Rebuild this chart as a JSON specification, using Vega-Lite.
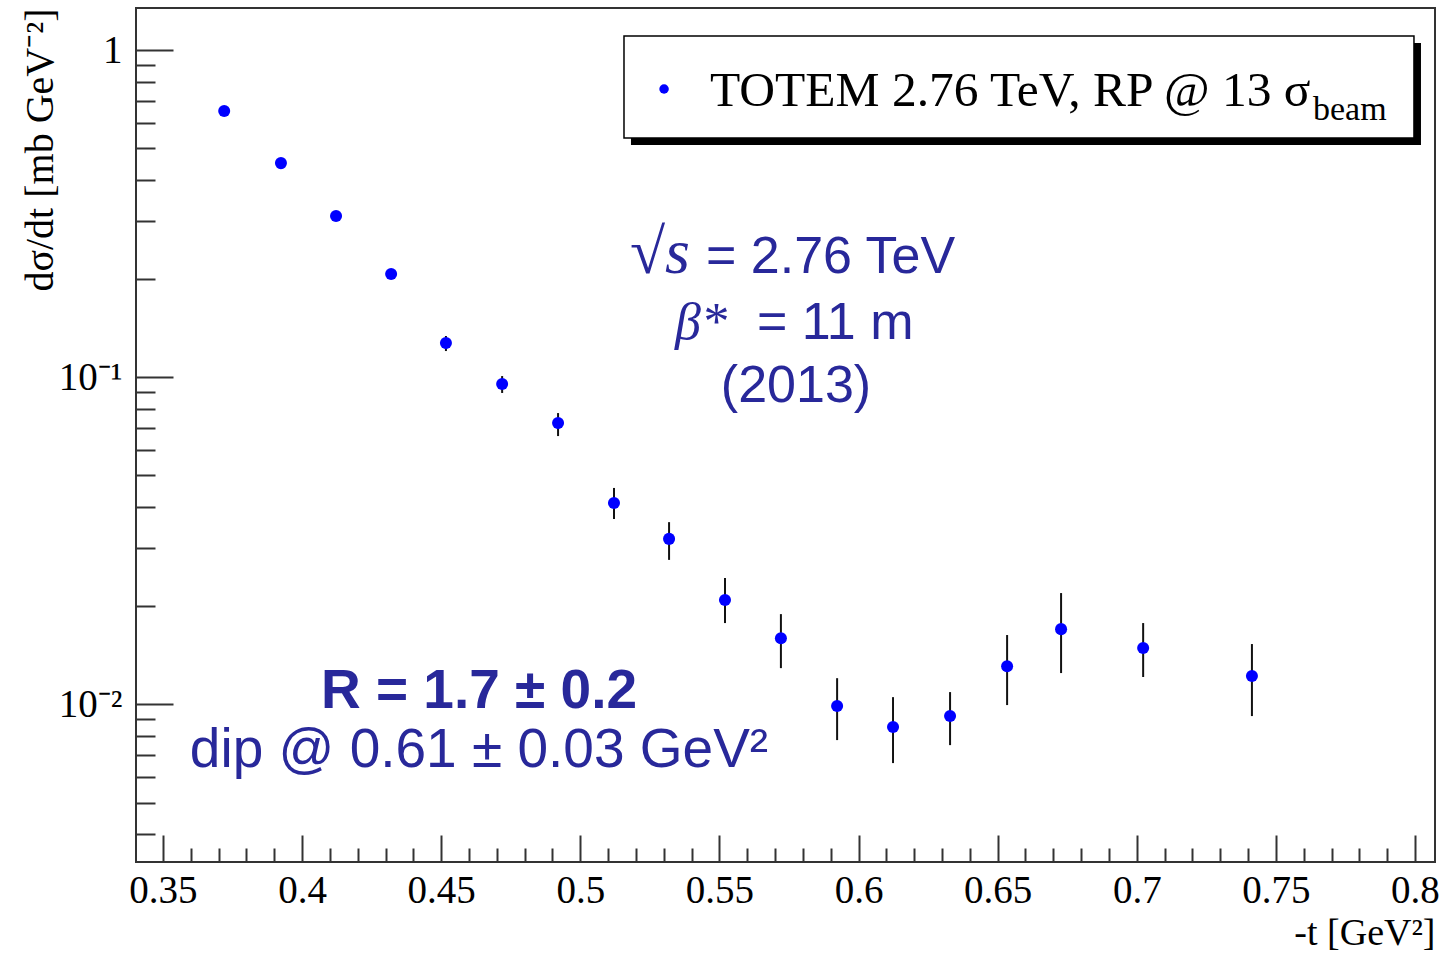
{
  "$schema": "https://vega.github.io/schema/vega-lite/v6.json",
  "width": 1299,
  "height": 854,
  "autosize": {"type": "none"},
  "padding": {"left": 136, "top": 8, "right": 7, "bottom": 91},
  "background": "white",
  "config": {"view": {"stroke": "#333333", "strokeWidth": 2}, "axis": {"grid": false}},
  "datasets": {
    "pts": [
      {"t": 0.372, "v": 0.651, "lo": 0.637, "hi": 0.665},
      {"t": 0.3924, "v": 0.451, "lo": 0.442, "hi": 0.461},
      {"t": 0.4122, "v": 0.311, "lo": 0.300, "hi": 0.322},
      {"t": 0.432, "v": 0.2065, "lo": 0.1994, "hi": 0.214},
      {"t": 0.4517, "v": 0.127, "lo": 0.1201, "hi": 0.1335},
      {"t": 0.4719, "v": 0.0952, "lo": 0.0894, "hi": 0.1007},
      {"t": 0.492, "v": 0.0723, "lo": 0.0660, "hi": 0.0776},
      {"t": 0.5121, "v": 0.0412, "lo": 0.0368, "hi": 0.0458},
      {"t": 0.5319, "v": 0.0320, "lo": 0.0276, "hi": 0.0360},
      {"t": 0.552, "v": 0.0208, "lo": 0.01769, "hi": 0.0243},
      {"t": 0.5721, "v": 0.0159, "lo": 0.01288, "hi": 0.01884},
      {"t": 0.5923, "v": 0.00986, "lo": 0.00776, "hi": 0.0120},
      {"t": 0.6124, "v": 0.00851, "lo": 0.00660, "hi": 0.01050},
      {"t": 0.6329, "v": 0.00919, "lo": 0.00749, "hi": 0.01088},
      {"t": 0.6534, "v": 0.01306, "lo": 0.00993, "hi": 0.01626},
      {"t": 0.6728, "v": 0.01695, "lo": 0.01244, "hi": 0.02185},
      {"t": 0.7023, "v": 0.01483, "lo": 0.01210, "hi": 0.01769},
      {"t": 0.7414, "v": 0.01218, "lo": 0.00919, "hi": 0.01526}
    ]
  },
  "resolve": {"axis": {"x": "independent", "y": "independent"}},
  "layer": [
    {
      "data": {"values": [{"t": 0.51821, "t2": 0.80216, "v": 0.5122, "v2": 1.0505}]},
      "mark": {"type": "rect", "fill": "black"},
      "encoding": {
        "x": {"field": "t", "type": "quantitative", "scale": {"type": "linear", "domain": [0.3403, 0.8072], "nice": false, "zero": false},
          "axis": {"orient": "bottom", "values": [0.36,0.37,0.38,0.39,0.41,0.42,0.43,0.44,0.46,0.47,0.48,0.49,0.51,0.52,0.53,0.54,0.56,0.57,0.58,0.59,0.61,0.62,0.63,0.64,0.66,0.67,0.68,0.69,0.71,0.72,0.73,0.74,0.76,0.77,0.78,0.79], "labels": false, "domain": false, "grid": false, "tickSize": -14, "tickWidth": 2, "tickColor": "#333333", "title": null}},
        "x2": {"field": "t2"},
        "y": {"field": "v", "type": "quantitative", "scale": {"type": "log", "domain": [0.003289, 1.3444], "nice": false},
          "axis": {"orient": "left", "values": [0.004,0.005,0.006,0.007,0.008,0.009,0.02,0.03,0.04,0.05,0.06,0.07,0.08,0.09,0.2,0.3,0.4,0.5,0.6,0.7,0.8,0.9], "labels": false, "domain": false, "grid": false, "tickSize": -19, "tickWidth": 2, "tickColor": "#333333", "title": null}},
        "y2": {"field": "v2"}
      }
    },
    {
      "data": {"values": [{"t": 0.5157, "t2": 0.79964, "v": 0.5380, "v2": 1.1036}]},
      "mark": {"type": "rect", "fill": "white", "stroke": "black", "strokeWidth": 1.5},
      "encoding": {
        "x": {"field": "t", "type": "quantitative", "scale": {"type": "linear", "domain": [0.3403, 0.8072], "nice": false, "zero": false}, "axis": null},
        "x2": {"field": "t2"},
        "y": {"field": "v", "type": "quantitative", "scale": {"type": "log", "domain": [0.003289, 1.3444], "nice": false}, "axis": null},
        "y2": {"field": "v2"}
      }
    },
    {
      "data": {"name": "pts"},
      "mark": {"type": "rule", "stroke": "#111111", "strokeWidth": 2},
      "encoding": {
        "x": {"field": "t", "type": "quantitative", "scale": {"type": "linear", "domain": [0.3403, 0.8072], "nice": false, "zero": false},
          "axis": {"orient": "bottom", "values": [0.35,0.4,0.45,0.5,0.55,0.6,0.65,0.7,0.75,0.8], "ticks": false, "domain": false, "grid": false, "labelFont": "Liberation Serif", "labelFontSize": 39, "labelColor": "#000000", "labelPadding": 9, "labelFlush": false, "labelOverlap": false, "labelBound": false, "labelExpr": "format(datum.value, '~g')", "title": "-t [GeV²]", "titleFont": "Liberation Serif", "titleFontSize": 38, "titleFontWeight": "normal", "titleColor": "#000000", "titleAlign": "right", "titleBaseline": "alphabetic", "titleX": 1299, "titleY": 82}},
        "y": {"field": "lo", "type": "quantitative", "scale": {"type": "log", "domain": [0.003289, 1.3444], "nice": false},
          "axis": {"orient": "left", "values": [0.01, 0.1, 1], "ticks": false, "domain": false, "grid": false, "labelFont": "Liberation Serif", "labelFontSize": 39, "labelColor": "#000000", "labelPadding": 14, "labelBaseline": "middle", "labelOverlap": false, "labelBound": false, "labelFlush": false, "labelExpr": "datum.value >= 0.5 ? '1' : (datum.value >= 0.05 ? '10⁻¹' : '10⁻²')", "title": "dσ/dt [mb GeV⁻²]", "titleFont": "Liberation Serif", "titleFontSize": 40, "titleFontWeight": "normal", "titleColor": "#000000", "titleAngle": -90, "titleAlign": "right", "titleBaseline": "middle", "titleX": -96, "titleY": 0}},
        "y2": {"field": "hi"}
      }
    },
    {
      "data": {"name": "pts"},
      "mark": {"type": "point", "shape": "circle", "filled": true, "color": "#0000ff", "opacity": 1, "size": 145},
      "encoding": {
        "x": {"field": "t", "type": "quantitative", "scale": {"type": "linear", "domain": [0.3403, 0.8072], "nice": false, "zero": false},
          "axis": {"orient": "bottom", "values": [0.35,0.4,0.45,0.5,0.55,0.6,0.65,0.7,0.75,0.8], "labels": false, "domain": false, "grid": false, "tickSize": -27, "tickWidth": 2, "tickColor": "#333333", "title": null}},
        "y": {"field": "v", "type": "quantitative", "scale": {"type": "log", "domain": [0.003289, 1.3444], "nice": false},
          "axis": {"orient": "left", "values": [0.01, 0.1, 1], "labels": false, "domain": false, "grid": false, "tickSize": -37, "tickWidth": 2, "tickColor": "#333333", "title": null}}
      }
    },
    {
      "data": {"values": [{"t": 0.5301, "v": 0.760}]},
      "mark": {"type": "point", "shape": "circle", "filled": true, "color": "#0000ff", "opacity": 1, "size": 90},
      "encoding": {
        "x": {"field": "t", "type": "quantitative", "scale": {"type": "linear", "domain": [0.3403, 0.8072], "nice": false, "zero": false}, "axis": null},
        "y": {"field": "v", "type": "quantitative", "scale": {"type": "log", "domain": [0.003289, 1.3444], "nice": false}, "axis": null}
      }
    },
    {
      "data": {"values": [{"t": 0.54661, "v": 0.6743, "label": "TOTEM 2.76 TeV, RP @ 13 σ"}]},
      "mark": {"type": "text", "font": "Liberation Serif", "fontSize": 49.5, "align": "left", "baseline": "alphabetic", "color": "#000000"},
      "encoding": {
        "x": {"field": "t", "type": "quantitative", "scale": {"type": "linear", "domain": [0.3403, 0.8072], "nice": false, "zero": false}, "axis": null},
        "y": {"field": "v", "type": "quantitative", "scale": {"type": "log", "domain": [0.003289, 1.3444], "nice": false}, "axis": null},
        "text": {"field": "label"}
      }
    },
    {
      "data": {"values": [{"t": 0.76334, "v": 0.6107, "label": "beam"}]},
      "mark": {"type": "text", "font": "Liberation Serif", "fontSize": 34, "align": "left", "baseline": "alphabetic", "color": "#000000"},
      "encoding": {
        "x": {"field": "t", "type": "quantitative", "scale": {"type": "linear", "domain": [0.3403, 0.8072], "nice": false, "zero": false}, "axis": null},
        "y": {"field": "v", "type": "quantitative", "scale": {"type": "log", "domain": [0.003289, 1.3444], "nice": false}, "axis": null},
        "text": {"field": "label"}
      }
    },
    {
      "data": {"values": [{"t": 0.53942, "v": 0.2080, "label": "√s"}]},
      "mark": {"type": "text", "font": "Liberation Serif", "fontStyle": "italic", "fontSize": 64, "align": "right", "baseline": "alphabetic", "color": "#28289a"},
      "encoding": {
        "x": {"field": "t", "type": "quantitative", "scale": {"type": "linear", "domain": [0.3403, 0.8072], "nice": false, "zero": false}, "axis": null},
        "y": {"field": "v", "type": "quantitative", "scale": {"type": "log", "domain": [0.003289, 1.3444], "nice": false}, "axis": null},
        "text": {"field": "label"}
      }
    },
    {
      "data": {"values": [{"t": 0.55272, "v": 0.1307, "label": "β*"}]},
      "mark": {"type": "text", "font": "Liberation Serif", "fontStyle": "italic", "fontSize": 52, "align": "right", "baseline": "alphabetic", "color": "#28289a"},
      "encoding": {
        "x": {"field": "t", "type": "quantitative", "scale": {"type": "linear", "domain": [0.3403, 0.8072], "nice": false, "zero": false}, "axis": null},
        "y": {"field": "v", "type": "quantitative", "scale": {"type": "log", "domain": [0.003289, 1.3444], "nice": false}, "axis": null},
        "text": {"field": "label"}
      }
    },
    {
      "data": {"values": [{"t": 0.54517, "v": 0.2080, "label": "= 2.76 TeV"}, {"t": 0.56350, "v": 0.1307, "label": "= 11 m"}]},
      "mark": {"type": "text", "font": "Liberation Sans", "fontSize": 52, "align": "left", "baseline": "alphabetic", "color": "#28289a"},
      "encoding": {
        "x": {"field": "t", "type": "quantitative", "scale": {"type": "linear", "domain": [0.3403, 0.8072], "nice": false, "zero": false}, "axis": null},
        "y": {"field": "v", "type": "quantitative", "scale": {"type": "log", "domain": [0.003289, 1.3444], "nice": false}, "axis": null},
        "text": {"field": "label"}
      }
    },
    {
      "data": {"values": [{"t": 0.57752, "v": 0.08387, "label": "(2013)"}]},
      "mark": {"type": "text", "font": "Liberation Sans", "fontSize": 52, "align": "center", "baseline": "alphabetic", "color": "#28289a"},
      "encoding": {
        "x": {"field": "t", "type": "quantitative", "scale": {"type": "linear", "domain": [0.3403, 0.8072], "nice": false, "zero": false}, "axis": null},
        "y": {"field": "v", "type": "quantitative", "scale": {"type": "log", "domain": [0.003289, 1.3444], "nice": false}, "axis": null},
        "text": {"field": "label"}
      }
    },
    {
      "data": {"values": [{"t": 0.46358, "v": 0.006417, "label": "dip @ 0.61 ± 0.03 GeV²"}]},
      "mark": {"type": "text", "font": "Liberation Sans", "fontSize": 55, "align": "center", "baseline": "alphabetic", "color": "#28289a"},
      "encoding": {
        "x": {"field": "t", "type": "quantitative", "scale": {"type": "linear", "domain": [0.3403, 0.8072], "nice": false, "zero": false}, "axis": null},
        "y": {"field": "v", "type": "quantitative", "scale": {"type": "log", "domain": [0.003289, 1.3444], "nice": false}, "axis": null},
        "text": {"field": "label"}
      }
    },
    {
      "data": {"values": [{"t": 0.46358, "v": 0.009722, "label": "R = 1.7 ± 0.2"}]},
      "mark": {"type": "text", "font": "Liberation Sans", "fontSize": 55, "fontWeight": "bold", "align": "center", "baseline": "alphabetic", "color": "#28289a"},
      "encoding": {
        "x": {"field": "t", "type": "quantitative", "scale": {"type": "linear", "domain": [0.3403, 0.8072], "nice": false, "zero": false}, "axis": null},
        "y": {"field": "v", "type": "quantitative", "scale": {"type": "log", "domain": [0.003289, 1.3444], "nice": false}, "axis": null},
        "text": {"field": "label"}
      }
    }
  ]
}
